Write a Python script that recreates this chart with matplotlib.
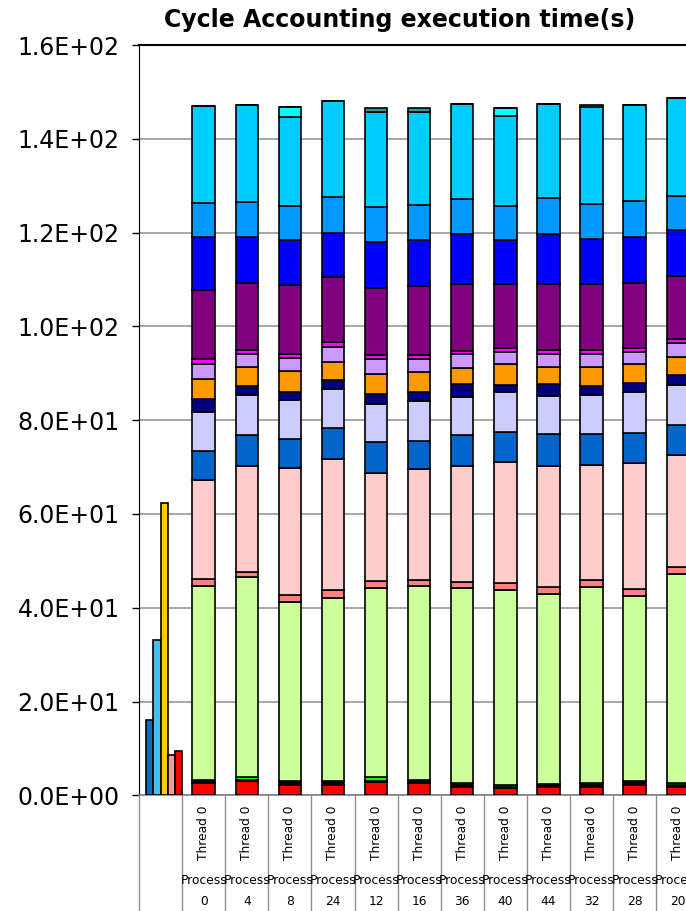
import matplotlib
matplotlib.use("Agg")
import matplotlib.pyplot as plt
import matplotlib.transforms as mtransforms
from matplotlib.ticker import FuncFormatter, MultipleLocator
import numpy as np

threads = ["Thread 0"] * 12
processes = ["0", "4", "8", "24", "12", "16", "36", "40", "44", "32", "28", "20"]

# totals shown as plain columns in the first slot
summary_vals = [16.0, 33.2, 62.4, 8.5, 9.5]
summary_colors = ["#0070C0", "#45BFF0", "#FFCC00", "#FF9999", "#FF0000"]

# stacked cycle components per thread, bottom to top
red = [2.7, 3.0, 2.3, 2.3, 2.8, 2.6, 1.8, 1.5, 1.7, 1.8, 2.3, 1.8]
dark = [0.6, 0.3, 0.8, 0.8, 0.3, 0.7, 0.8, 0.3, 0.8, 0.8, 0.75, 0.3]
green = [0.0, 0.5, 0.0, 0.0, 0.9, 0.0, 0.0, 0.5, 0.0, 0.0, 0.0, 0.5]
light_green = [41.4, 42.7, 38.2, 39.0, 40.3, 41.3, 41.5, 41.5, 40.5, 41.9, 39.45, 44.6]
salmon = [1.4, 1.2, 1.4, 1.7, 1.4, 1.4, 1.4, 1.4, 1.4, 1.4, 1.4, 1.4]
pink = [21.2, 22.5, 27.2, 28.0, 23.0, 23.6, 24.8, 25.9, 25.9, 24.5, 27.0, 24.0]
mid_blue = [6.1, 6.6, 6.1, 6.5, 6.6, 6.0, 6.5, 6.4, 6.7, 6.6, 6.4, 6.4]
lavender = [8.4, 8.5, 8.4, 8.3, 8.1, 8.5, 8.2, 8.4, 8.2, 8.3, 8.6, 8.6]
navy = [2.8, 2.0, 1.6, 1.9, 2.1, 2.0, 2.7, 1.6, 2.5, 2.0, 2.1, 2.0]
orange = [4.2, 4.1, 4.5, 4.0, 4.4, 4.2, 3.5, 4.5, 3.7, 4.1, 3.9, 3.9]
lilac = [3.2, 2.6, 2.7, 3.0, 3.1, 2.7, 2.9, 2.5, 2.8, 2.8, 2.7, 3.0]
magenta = [1.0, 1.0, 1.0, 1.1, 0.9, 0.9, 0.7, 0.8, 0.7, 0.7, 0.8, 0.8]
purple = [14.7, 14.2, 14.6, 14.0, 14.2, 14.7, 14.2, 13.7, 14.1, 14.1, 13.8, 13.4]
blue = [11.4, 9.9, 9.6, 9.4, 9.9, 9.8, 10.8, 9.4, 10.7, 9.6, 9.9, 9.8]
azure = [7.3, 7.5, 7.2, 7.5, 7.4, 7.5, 7.3, 7.2, 7.6, 7.6, 7.6, 7.3]
sky = [20.5, 20.5, 19.1, 20.6, 20.4, 19.9, 20.4, 19.2, 20.2, 20.6, 20.6, 20.8]
cyan = [0.0, 0.0, 2.0, 0.0, 0.0, 0.0, 0.0, 1.7, 0.0, 0.0, 0.0, 0.0]
teal = [0.0, 0.0, 0.0, 0.0, 0.7, 0.7, 0.0, 0.0, 0.0, 0.3, 0.0, 0.0]

layers = [
    (red, "#FF0000"), (dark, "#000000"), (green, "#00FF00"),
    (light_green, "#CCFF99"), (salmon, "#FF8080"), (pink, "#FFCCCC"),
    (mid_blue, "#0066CC"), (lavender, "#CCCCFF"), (navy, "#000080"),
    (orange, "#FF9900"), (lilac, "#CC99FF"), (magenta, "#FF00FF"),
    (purple, "#800080"), (blue, "#0000FF"), (azure, "#0099FF"),
    (sky, "#00CCFF"), (cyan, "#00FFFF"), (teal, "#339999"),
]

W, H = 686, 911
fig = plt.figure(figsize=(W / 100, H / 100), dpi=100)
cat_px = 43.1
ax = fig.add_axes([139 / W, 115.7 / H, 14 * cat_px / W, 750.3 / H])

# summary columns in slot 0
offsets = np.array([-0.252, -0.084, 0.084, 0.252, 0.42])
ax.bar(offsets, summary_vals, width=0.168, color=summary_colors,
       edgecolor="black", linewidth=1.2, zorder=3)

x = np.arange(1, len(processes) + 1)
bottom = np.zeros(len(processes))
for vals, col in layers:
    vals = np.array(vals)
    ax.bar(x, vals, bottom=bottom, width=0.52, color=col,
           edgecolor="black", linewidth=1.2, zorder=3)
    bottom += vals

ax.set_xlim(-0.5, 13.5)
ax.set_ylim(0, 160)
ax.yaxis.set_major_locator(MultipleLocator(20))
ax.yaxis.set_major_formatter(FuncFormatter(lambda v, p: f"{v:.1E}"))
ax.yaxis.grid(True, color="#A0A0A0", linewidth=1.3)
ax.set_axisbelow(True)
ax.set_xticks([])
ax.tick_params(axis="y", labelsize=17, length=5, width=1, pad=9)
ax.spines["left"].set_color("black")
ax.spines["top"].set_linewidth(1.5)
ax.spines["bottom"].set_color("#808080")
ax.spines["bottom"].set_linewidth(1.2)

# two-level category labels under the axis
trans = mtransforms.blended_transform_factory(ax.transData, ax.transAxes)
axh = 750.3
for k in range(len(processes) + 2):
    ax.plot([k - 0.5, k - 0.5], [0, -115.7 / axh], transform=trans,
            color="#909090", linewidth=1, clip_on=False)
for xi, th, pr in zip(x, threads, processes):
    ax.text(xi, -37.7 / axh, th, rotation=90, ha="center", va="center",
            fontsize=8.8, transform=trans, clip_on=False)
    ax.text(xi, -84.7 / axh, "Process", ha="center", va="center",
            fontsize=8.8, transform=trans, clip_on=False)
    ax.text(xi, -106.4 / axh, pr, ha="center", va="center",
            fontsize=8.8, transform=trans, clip_on=False)

fig.text(400 / W, 1 - 20 / H, "Cycle Accounting execution time(s)",
         ha="center", va="center", fontsize=17, fontweight="bold")

fig.savefig("out.png", dpi=100)
